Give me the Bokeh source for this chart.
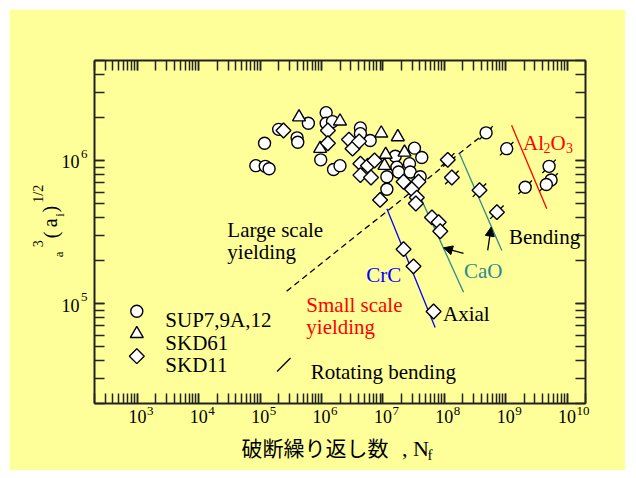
import numpy as np
from bokeh.plotting import figure
from bokeh.models import (Range1d, LogAxis, FixedTicker, CustomJSTickFormatter,
                          Label, Arrow, NormalHead)
from bokeh.embed import file_html
from bokeh.resources import INLINE

# ---------------- data ----------------
# SUP7,9A,12 (circles)
sup_N = [8.5e4, 1.21e5, 1.40e5, 1.18e5, 2.0e5, 4.0e5, 4.1e5, 6.1e5, 1.19e6, 1.19e6, 1.51e6,
         9.7e5, 1.57e6, 2.0e6, 4.3e6, 4.3e6, 6.2e6, 1.59e7, 3.27e7, 4.3e7, 2.71e7, 1.69e7,
         1.16e7, 1.80e7, 2.79e7, 4.05e7, 1.16e7]
sup_S = [9.2e5, 9.1e5, 8.75e5, 1.32e6, 1.65e6, 1.44e6, 1.34e6, 1.82e6, 2.16e6, 1.82e6, 1.87e6,
         1.01e6, 8.65e5, 9.2e5, 1.69e6, 1.54e6, 1.38e6, 1.07e6, 1.22e6, 1.05e6, 9.5e5, 8.98e5,
         7.7e5, 8.3e5, 8.3e5, 7.7e5, 6.3e5]
sup_rb_N = [4.8e8, 1.04e9, 2.08e9, 5.1e9, 5.5e9, 4.6e9]
sup_rb_S = [1.56e6, 1.21e6, 6.5e5, 9.1e5, 7.3e5, 6.8e5]
# SKD61 (triangles)
skd61_N = [4.3e5, 2.0e6, 9.5e5, 9.4e6, 1.75e7, 1.11e7, 2.25e7, 1.06e7]
skd61_S = [2.01e6, 1.88e6, 1.21e6, 1.55e6, 1.46e6, 1.10e6, 1.14e6, 9.2e5]
# SKD11 (diamonds)
skd11_N = [2.4e5, 1.27e6, 1.27e6, 2.8e6, 3.2e6, 4.1e6, 4.3e6, 5.7e6, 7.3e6, 4.3e6, 6.4e6,
           2.17e7, 3.8e7, 2.96e7, 9.0e6, 3.57e7, 3.44e7, 6.3e7, 8.1e7, 8.6e7, 2.17e7, 3.15e7, 6.7e7]
skd11_S = [1.62e6, 1.62e6, 1.32e6, 1.40e6, 1.21e6, 1.36e6, 9.5e5, 9.2e5, 1.0e6, 7.9e5, 7.6e5,
           7.1e5, 7.1e5, 6.3e5, 5.3e5, 5.5e5, 5.0e5, 4.0e5, 3.7e5, 3.2e5, 2.4e5, 1.82e5, 8.8e4]
skd11_rb_N = [1.14e8, 1.33e8, 3.75e8, 7.2e8]
skd11_rb_S = [1.01e6, 7.6e5, 6.2e5, 4.35e5]

# guide lines
yield_N = [2.7e5, 5.9e8]
yield_S = [1.22e5, 1.69e6]
crc_N = [1.16e7, 7.1e7]
crc_S = [4.6e5, 6.8e4]
cao_axial_N = [2.8e7, 2.06e8]
cao_axial_S = [7.9e5, 1.2e5]
cao_bend_N = [1.77e8, 8.65e8]
cao_bend_S = [1.12e6, 2.35e5]
al2o3_N = [1.25e9, 4.68e9]
al2o3_S = [1.76e6, 4.6e5]

# arrows (start N, start S, end N, end S)
arrow_axial = [2.06e8, 2.24e5, 9.7e7, 2.45e5]
arrow_bend = [5.1e8, 2.35e5, 5.8e8, 3.42e5]

x_decades = [3, 4, 5, 6, 7, 8, 9, 10]
y_decades = [5, 6]
legend_labels = ["SUP7,9A,12", "SKD61", "SKD11"]

# ---------------- geometry ----------------
X0, X1 = 2e2, 2e10
Y0, Y1 = 2e4, 5e6
FL, FT, FW, FH = 96, 60, 491, 343   # frame position on the page
DX = FW / np.log10(X1 / X0)
DY = FH / np.log10(Y1 / Y0)


def xd(px):
    return float(10 ** (np.log10(X0) + (px - FL) / DX))


def yd(py):
    return float(10 ** (np.log10(Y1) - (py - FT) / DY))


def xpx(v):
    return FL + (np.log10(v) - np.log10(X0)) * DX


def ypx(v):
    return FT + (np.log10(Y1) - np.log10(v)) * DY


YEL = "#FFFF99"
SERIF = "Liberation Serif"
CJK = "Noto Sans CJK JP"
TEAL = "#2A8C8C"
INK = "#222222"

p = figure(width=616, height=461, x_axis_type="log", y_axis_type="log",
           x_range=Range1d(X0, X1), y_range=Range1d(Y0, Y1),
           output_backend="svg", toolbar_location=None, tools="",
           min_border_left=85, min_border_right=40, min_border_top=51, min_border_bottom=67)
p.margin = (9, 0, 0, 9)
p.background_fill_color = YEL
p.border_fill_color = YEL
p.outline_line_color = None
p.grid.visible = False

xt = FixedTicker(ticks=[10.0 ** k for k in range(2, 11)],
                 minor_ticks=[m * 10.0 ** k for k in range(2, 11) for m in range(1, 10)])
yt = FixedTicker(ticks=[10.0 ** k for k in range(4, 7)],
                 minor_ticks=[m * 10.0 ** k for k in range(4, 7) for m in range(1, 10)])
blank = CustomJSTickFormatter(code="return ''")


def style_tick_axis(ax, ticker):
    ax.ticker = ticker
    ax.formatter = blank
    ax.major_label_text_font_size = "0px"
    ax.major_label_standoff = 0
    ax.axis_line_width = 2
    ax.axis_line_color = INK
    ax.major_tick_in = 10
    ax.major_tick_out = 0
    ax.minor_tick_in = 10
    ax.minor_tick_out = 0
    ax.major_tick_line_width = 1.5
    ax.minor_tick_line_width = 1.5
    ax.major_tick_line_color = INK
    ax.minor_tick_line_color = INK


style_tick_axis(p.xaxis[0], xt)
style_tick_axis(p.yaxis[0], yt)
top_ax = LogAxis()
style_tick_axis(top_ax, xt)
p.add_layout(top_ax, "above")
right_ax = LogAxis()
style_tick_axis(right_ax, yt)
p.add_layout(right_ax, "right")


def text_axis(side, ticks, labels, size, standoff, font=SERIF, orientation="horizontal",
              color="black"):
    ax = LogAxis(ticker=FixedTicker(ticks=ticks, minor_ticks=[]),
                 major_label_overrides={t: s for t, s in zip(ticks, labels)},
                 major_label_text_font=font, major_label_text_font_size=size,
                 major_label_text_color=color,
                 major_label_standoff=standoff, major_label_orientation=orientation,
                 axis_line_color=None, major_tick_line_color=None, minor_tick_line_color=None,
                 major_tick_in=0, major_tick_out=0, minor_tick_in=0, minor_tick_out=0)
    p.add_layout(ax, side)
    return ax


# ---- x tick labels: "10" at the decades, exponent as superscript ----
sup_ticks = [xd(xpx(10.0 ** n) + 9.5 + 3.25 * len(str(n))) for n in x_decades]
text_axis("below", sup_ticks, [str(n) for n in x_decades], "13px", 3)
text_axis("below", [10.0 ** n for n in x_decades], ["10"] * len(x_decades), "18px", -8)
# ---- x axis title: 破断繰り返し数, N_f ----
text_axis("below", [xd(417.0)], [", N"], "22px", 10)
text_axis("below", [xd(316.5)], ["破断繰り返し数"], "21px", -32, font=CJK)
text_axis("below", [xd(431.5)], ["f"], "15px", -18)

# ---- y tick labels ----
text_axis("left", [yd(ypx(10.0 ** n) - 6.8) for n in y_decades], [str(n) for n in y_decades],
          "13px", 7)
text_axis("left", [yd(ypx(10.0 ** n) + 1.5) for n in y_decades], ["10"] * len(y_decades),
          "18px", -2)
# ---- y axis title  a^3 (a_i)^(1/2)  built from sub / main / superscript pieces ----
text_axis("left", [yd(253.8), yd(214.5)], ["a", "i"], "13px", -8, orientation="vertical")
text_axis("left", [yd(234.5), yd(222.3), yd(208.7)], ["(", "a", ")"], "20px", -13,
          orientation="vertical")
text_axis("left", [yd(243.3), yd(193.3)], ["3", "1/2"], "14px", -10, orientation="vertical")

# ---------------- guide lines & arrows ----------------
p.line(yield_N, yield_S, line_color="black", line_width=1.3, line_dash="6 4")
p.line(crc_N, crc_S, line_color="#0000FF", line_width=1.3)
p.line(cao_axial_N, cao_axial_S, line_color=TEAL, line_width=1.3)
p.line(cao_bend_N, cao_bend_S, line_color=TEAL, line_width=1.3)
p.line(al2o3_N, al2o3_S, line_color="#FF0000", line_width=1.3)

for a in (arrow_axial, arrow_bend):
    p.add_layout(Arrow(end=NormalHead(size=9, fill_color="black", line_color="black"),
                       x_start=a[0], y_start=a[1], x_end=a[2], y_end=a[3],
                       line_width=1.3, line_color="black"))

# ---------------- markers ----------------
p.scatter(sup_rb_N + skd11_rb_N, sup_rb_S + skd11_rb_S, marker="dash", size=19,
          angle=np.pi / 4, line_color="black", line_width=1.3)
mk = dict(fill_color="white", line_color="black", line_width=1.4)
p.scatter(sup_N, sup_S, marker="circle", size=12, **mk)
p.scatter(sup_rb_N, sup_rb_S, marker="circle", size=12, **mk)
p.scatter(skd61_N, skd61_S, marker="triangle", size=13, **mk)
p.scatter(skd11_N, skd11_S, marker="square", size=10.5, angle=np.pi / 4, **mk)
p.scatter(skd11_rb_N, skd11_rb_S, marker="square", size=10.5, angle=np.pi / 4, **mk)

# ---------------- key (legend) ----------------
p.scatter([xd(138.3)], [yd(310.7)], marker="circle", size=12, **mk)
p.scatter([xd(138.3)], [yd(333.3)], marker="triangle", size=13, **mk)
p.scatter([xd(138.3)], [yd(355.7)], marker="square", size=10.5, angle=np.pi / 4, **mk)
p.scatter([xd(285.3)], [yd(364.2)], marker="dash", size=19, angle=np.pi / 4,
          line_color="black", line_width=1.3)


def lab(px, py, text, size="21px", color="black", align="left", baseline="alphabetic",
        font=SERIF):
    p.add_layout(Label(x=xd(px), y=yd(py), text=text, text_font=font, text_font_size=size,
                       text_color=color, text_align=align, text_baseline=baseline))


for lbl, base in zip(legend_labels, [319.3, 342.7, 364.0]):
    lab(166.8, base, lbl)
lab(312.2, 371.7, "Rotating bending")

# ---------------- in-plot annotations ----------------
lab(228.8, 229.3, "Large scale")
lab(228.8, 251.7, "yielding")
lab(307.8, 304.3, "Small scale", color="#FF0000")
lab(307.8, 326.7, "yielding", color="#FF0000")
lab(367.8, 274.3, "CrC", color="#0000FF")
lab(465.5, 270.7, "CaO", color=TEAL)
lab(444.5, 313.3, "Axial")
lab(510.5, 236.7, "Bending")
lab(524.5, 142.7, "Al", color="#FF0000")
lab(545.0, 147.3, "2", size="14px", color="#FF0000")
lab(552.0, 142.7, "O", color="#FF0000")
lab(567.5, 147.3, "3", size="14px", color="#FF0000")

open("out.html", "w").write(file_html(p, INLINE))
